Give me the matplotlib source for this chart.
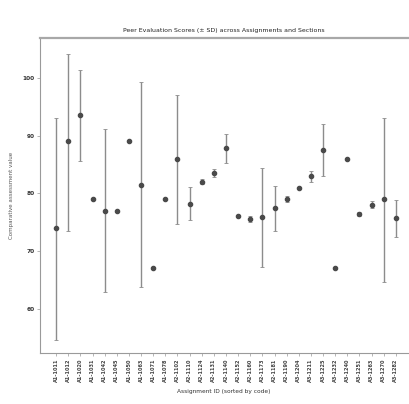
#%%
# IMPORTS #######################################

import matplotlib
matplotlib.use('Agg')
import matplotlib.pyplot as plt
import numpy as np

# SETUP #########################################

plt.rcParams.update({
    'font.family': 'DejaVu Sans',
    'font.size': 4,
})

# DATA ##########################################

assignment_ids = [
    'A1-1011', 'A1-1012', 'A1-1020', 'A1-1031', 'A1-1042', 'A1-1045', 'A1-1050',
    'A1-1063', 'A1-1071', 'A1-1078', 'A2-1102', 'A2-1110', 'A2-1124', 'A2-1131',
    'A2-1140', 'A2-1152', 'A2-1160', 'A2-1173', 'A2-1181', 'A2-1190', 'A3-1204',
    'A3-1211', 'A3-1225', 'A3-1232', 'A3-1240', 'A3-1251', 'A3-1263', 'A3-1270',
    'A3-1282',
]

mean_score = [
    73.9, 89.0, 93.5, 79.0, 77.0, 77.0, 89.0, 81.5, 67.0, 79.0,
    85.9, 78.1, 82.0, 83.5, 87.8, 76.0, 75.5, 75.8, 77.4, 79.0,
    80.9, 82.9, 87.5, 67.0, 85.9, 76.4, 78.0, 79.0, 75.7,
]

score_lower = [
    54.6, 73.5, 85.6, 79.0, 62.8, 77.0, 89.0, 63.8, 67.0, 79.0,
    74.7, 75.4, 81.6, 82.8, 85.2, 75.8, 75.0, 67.3, 73.5, 78.4,
    80.7, 82.0, 82.9, 67.0, 85.9, 76.0, 77.4, 64.7, 72.5,
]

score_upper = [
    93.1, 104.2, 101.4, 79.0, 91.1, 77.0, 89.0, 99.2, 67.0, 79.0,
    97.1, 81.0, 82.4, 84.2, 90.2, 76.2, 76.0, 84.3, 81.3, 79.6,
    81.1, 83.8, 92.0, 67.0, 85.9, 76.8, 78.6, 93.1, 78.9,
]

y_ticks = [60, 70, 80, 90, 100]

# FIGURE ########################################

fig = plt.figure(figsize=(4.10, 4.04), dpi=100)
ax = fig.add_axes([0.098, 0.126, 0.897, 0.780])

x_pos = np.arange(len(assignment_ids))
mean_arr = np.array(mean_score)
err_low = mean_arr - np.array(score_lower)
err_high = np.array(score_upper) - mean_arr

# PLOTTING ###################

ax.errorbar(
    x_pos,
    mean_arr,
    yerr=[err_low, err_high],
    fmt='o',
    color='#4a4a4a',
    ecolor='#8c8c8c',
    elinewidth=1.0,
    capsize=1.5,
    capthick=0.6,
    markersize=3.0,
)

# AXIS LIMITS ################

ax.set_xlim(-1.32, 29.0)
ax.set_ylim(52.3, 106.9)

# TICKS AND LABELS ###########

ax.set_xticks(x_pos)
ax.set_xticklabels(assignment_ids, rotation=90, fontsize=3.6,
                   color='#444444', fontweight='bold')
ax.set_yticks(y_ticks)
ax.set_yticklabels([str(v) for v in y_ticks], fontsize=4.2,
                   color='#333333', fontweight='bold')
ax.tick_params(axis='both', length=2, width=0.5, color='#999999', pad=2)

for side in ['left', 'bottom']:
    ax.spines[side].set_color('#9a9a9a')
    ax.spines[side].set_linewidth(0.8)
ax.spines['top'].set_color('#a8a8a8')
ax.spines['top'].set_linewidth(1.6)
ax.spines['right'].set_visible(False)

# AXIS LABELS ################

ax.set_title('Peer Evaluation Scores (\u00b1 SD) across Assignments and Sections',
             fontsize=4.5, color='#222222', pad=4)
ax.set_xlabel('Assignment ID (sorted by code)', fontsize=4.2, color='#333333', labelpad=5)
ax.set_ylabel('Comparative assessment value', fontsize=4, color='#555555', labelpad=6)

# EXPORT #########################################

plt.savefig('out.png', dpi=100)
# %%
